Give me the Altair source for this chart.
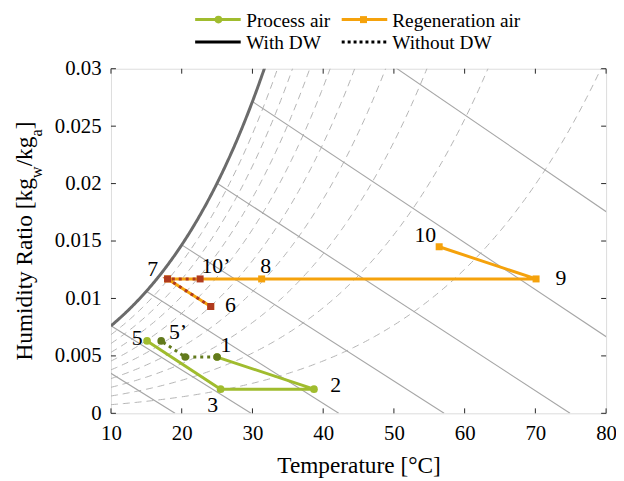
import altair as alt
import numpy as np
import pandas as pd

# ---------------- data ----------------
X_TICKS = [10, 20, 30, 40, 50, 60, 70, 80]
Y_TICKS = [0, 0.005, 0.01, 0.015, 0.02, 0.025, 0.03]

# process air, with desiccant wheel: states 1 -> 2 -> 3 -> 5
PROC_WITH_NAME = ["1", "2", "3", "5"]
PROC_WITH_T = [25.0, 38.7, 25.5, 15.1]
PROC_WITH_W = [0.0049, 0.0021, 0.0021, 0.0063]
# process air, without desiccant wheel: 1 -> (cooled) -> 5'
PROC_WITHOUT_NAME = ["1", "", "5’"]
PROC_WITHOUT_T = [25.0, 20.5, 17.1]
PROC_WITHOUT_W = [0.0049, 0.0049, 0.0063]

# regeneration air, with DW: 6 -> 7 -> 8 -> 9 -> 10
REGEN_WITH_NAME = ["6", "7", "8", "9", "10"]
REGEN_WITH_T = [24.1, 18.0, 31.3, 70.1, 56.4]
REGEN_WITH_W = [0.0093, 0.0117, 0.0117, 0.0117, 0.0145]
# regeneration air, without DW: 6 -> 7 -> 10'
REGEN_WITHOUT_NAME = ["6", "7", "10’"]
REGEN_WITHOUT_T = [24.1, 18.0, 22.6]
REGEN_WITHOUT_W = [0.0093, 0.0117, 0.0117]

# psychrometric background
RH_LEVELS = [0.1, 0.2, 0.3, 0.4, 0.5, 0.6, 0.7, 0.8, 0.9]
WB_T = [5, 10, 15, 20, 25, 30, 35]                 # wet-bulb lines start on saturation
WB_T0 = [19.06, 29.8, 42.2, 57.1, 74.9, 96.3, 121.7]  # where they reach W = 0

# label text and pixel offsets from its point
LABELS = ["1", "2", "3", "5", "5’", "6", "7", "8", "9", "10", "10’"]
LABEL_T = [25.0, 38.7, 25.5, 15.1, 17.1, 24.1, 18.0, 31.3, 70.1, 56.4, 22.6]
LABEL_W = [0.0049, 0.0021, 0.0021, 0.0063, 0.0063, 0.0093, 0.0117, 0.0117, 0.0117, 0.0145, 0.0117]
LABEL_DX = [9, 22, -8, -10, 17, 20, -15, 4, 25, -14, 16]
LABEL_DY = [-12, -4, 16, -3, -9, -1, -10, -13, -1, -12, -13]

# ---------------- helpers ----------------
P = 101.325


def psat(t):
    return 0.61094 * np.exp(17.625 * t / (t + 243.04))


def w_of(t, phi):
    pw = phi * psat(t)
    return 0.622 * pw / (P - pw)


FONT = "Liberation Serif"
GREEN = "#A0BC2E"
OLIVE = "#627A1C"
ORANGE = "#F5A20C"
BRICK = "#B03A1E"

xs = alt.Scale(domain=[10, 80], nice=False, zero=False)
ys = alt.Scale(domain=[0, 0.03], nice=False, zero=False)
xaxis = alt.Axis(values=X_TICKS, format="d", title="Temperature [°C]", grid=False,
                 ticks=False, domain=False, labelFont=FONT, labelFontSize=21,
                 labelColor="black", labelPadding=9, labelFlush=False,
                 titleFont=FONT, titleFontSize=23.5, titleFontWeight="normal",
                 titleColor="black", titlePadding=11)
yaxis = alt.Axis(values=Y_TICKS, format="~g", title=None, grid=False, ticks=False,
                 domain=False, labelFont=FONT, labelFontSize=21, labelColor="black",
                 labelPadding=10, labelFlush=False)
X = alt.X("T:Q", scale=xs, axis=xaxis)
Y = alt.Y("W:Q", scale=ys, axis=yaxis)

# saturation curve
tsat = np.linspace(10, 33, 240)
sat_df = pd.DataFrame({"T": tsat, "W": w_of(tsat, 1.0)})

# RH curves
rows = []
tg = np.linspace(10, 80, 281)
for phi in RH_LEVELS:
    for t in tg:
        rows.append({"T": t, "W": w_of(t, phi), "rh": phi})
rh_df = pd.DataFrame(rows)

# wet-bulb lines
rows = []
for k, (tw, t0) in enumerate(zip(WB_T, WB_T0)):
    rows.append({"T": tw, "W": float(w_of(tw, 1.0)), "g": k})
    rows.append({"T": t0, "W": 0.0, "g": k})
wb_df = pd.DataFrame(rows)


def path_df(ts, ws):
    return pd.DataFrame({"T": ts, "W": ws, "i": list(range(len(ts)))})


layers = []
layers.append(alt.Chart(rh_df).mark_line(clip=True, color="#b4b4b4", strokeWidth=1,
                                         strokeDash=[7, 5]).encode(x=X, y=Y, detail="rh:N"))
layers.append(alt.Chart(wb_df).mark_line(clip=True, color="#a6a6a6", strokeWidth=1.1)
              .encode(x=X, y=Y, detail="g:N"))
layers.append(alt.Chart(sat_df).mark_line(clip=True, color="#6b6b6b", strokeWidth=3)
              .encode(x=X, y=Y))

# ticks (inward, MATLAB style)
xt = pd.DataFrame({"T": X_TICKS})
yt = pd.DataFrame({"W": Y_TICKS})
tick_col = "#262626"
layers.append(alt.Chart(xt).mark_rule(color=tick_col, strokeWidth=1)
              .encode(x=X, y=alt.value(348), y2=alt.value(343)))
layers.append(alt.Chart(xt).mark_rule(color=tick_col, strokeWidth=1)
              .encode(x=X, y=alt.value(0), y2=alt.value(5)))
layers.append(alt.Chart(yt).mark_rule(color=tick_col, strokeWidth=1)
              .encode(y=Y, x=alt.value(0), x2=alt.value(5)))
layers.append(alt.Chart(yt).mark_rule(color=tick_col, strokeWidth=1)
              .encode(y=Y, x=alt.value(500), x2=alt.value(495)))

# data paths
pw = path_df(PROC_WITH_T, PROC_WITH_W)
pwo = path_df(PROC_WITHOUT_T, PROC_WITHOUT_W)
rw = path_df(REGEN_WITH_T, REGEN_WITH_W)
rwo = path_df(REGEN_WITHOUT_T, REGEN_WITHOUT_W)
O = alt.Order("i:Q")

layers.append(alt.Chart(rw).mark_line(color=ORANGE, strokeWidth=3).encode(x=X, y=Y, order=O))
layers.append(alt.Chart(rw).mark_point(shape="square", filled=True, opacity=1, color=ORANGE,
                                       size=50).encode(x=X, y=Y))
layers.append(alt.Chart(rwo).mark_line(color=BRICK, strokeWidth=3, strokeDash=[3, 4])
              .encode(x=X, y=Y, order=O))
layers.append(alt.Chart(rwo).mark_point(shape="square", filled=True, opacity=1, color=BRICK,
                                        size=50).encode(x=X, y=Y))
layers.append(alt.Chart(pw).mark_line(color=GREEN, strokeWidth=3).encode(x=X, y=Y, order=O))
layers.append(alt.Chart(pw).mark_point(shape="circle", filled=True, opacity=1, color=GREEN,
                                       size=60).encode(x=X, y=Y))
layers.append(alt.Chart(pwo).mark_line(color=OLIVE, strokeWidth=3, strokeDash=[3, 4])
              .encode(x=X, y=Y, order=O))
layers.append(alt.Chart(pwo).mark_point(shape="circle", filled=True, opacity=1, color=OLIVE,
                                        size=60).encode(x=X, y=Y))

# point labels
for txt, t, w, dx, dy in zip(LABELS, LABEL_T, LABEL_W, LABEL_DX, LABEL_DY):
    d = pd.DataFrame({"T": [t], "W": [w], "lab": [txt]})
    layers.append(alt.Chart(d).mark_text(font=FONT, fontSize=22, color="black", dx=dx, dy=dy,
                                         align="center", baseline="middle")
                  .encode(x=X, y=Y, text="lab:N"))

# legend (drawn in pixel space above the plot)
one = pd.DataFrame({"a": [0]})
R1, R2 = -49.6, -27.0
T1, T2 = -41.8, -19.8
LEG_FS = 19.5
layers.append(alt.Chart(one).mark_rule(color=GREEN, strokeWidth=3)
              .encode(x=alt.value(85), x2=alt.value(131), y=alt.value(R1)))
layers.append(alt.Chart(one).mark_point(shape="circle", filled=True, opacity=1, color=GREEN, size=60)
              .encode(x=alt.value(108.5), y=alt.value(R1)))
layers.append(alt.Chart(one).mark_rule(color=ORANGE, strokeWidth=3)
              .encode(x=alt.value(233), x2=alt.value(279), y=alt.value(R1)))
layers.append(alt.Chart(one).mark_point(shape="square", filled=True, opacity=1, color=ORANGE, size=50)
              .encode(x=alt.value(255), y=alt.value(R1)))
layers.append(alt.Chart(one).mark_rule(color="black", strokeWidth=3)
              .encode(x=alt.value(85), x2=alt.value(131), y=alt.value(R2)))
layers.append(alt.Chart(one).mark_rule(color="black", strokeWidth=3, strokeDash=[3, 3])
              .encode(x=alt.value(233), x2=alt.value(279), y=alt.value(R2)))
for txt, xx, yy in [("Process air", 136.5, T1), ("Regeneration air", 284, T1),
                    ("With DW", 136.5, T2), ("Without DW", 284, T2)]:
    layers.append(alt.Chart(one).mark_text(font=FONT, fontSize=LEG_FS, color="black", align="left",
                                           baseline="alphabetic", text=txt)
                  .encode(x=alt.value(xx), y=alt.value(yy)))

# rotated y-axis title with subscripts
MAIN = 23.5
SUB = 16.5
pieces = [("Humidity Ratio [kg", MAIN, 7.834), ("w", SUB, 0.722), ("/kg", MAIN, 1.278),
          ("a", SUB, 0.444), ("]", MAIN, 0.333)]
total = sum(sz * em for _, sz, em in pieces)
ypos = 174 + total / 2
for txt, sz, em in pieces:
    bx = -80 if sz == MAIN else -70
    layers.append(alt.Chart(one).mark_text(font=FONT, fontSize=sz, color="black", align="left",
                                           baseline="alphabetic", angle=270, text=txt)
                  .encode(x=alt.value(bx), y=alt.value(ypos)))
    ypos -= sz * em

chart = alt.layer(*layers).properties(
    width=500, height=348,
    autosize=alt.AutoSizeParams(type="none"),
    padding={"left": 104, "top": 59, "right": 10, "bottom": 64},
).configure_view(stroke="#8a8a8a", strokeWidth=1.2).configure(background="white")

chart.save("out.html", embed_options={"renderer": "svg", "actions": False})
